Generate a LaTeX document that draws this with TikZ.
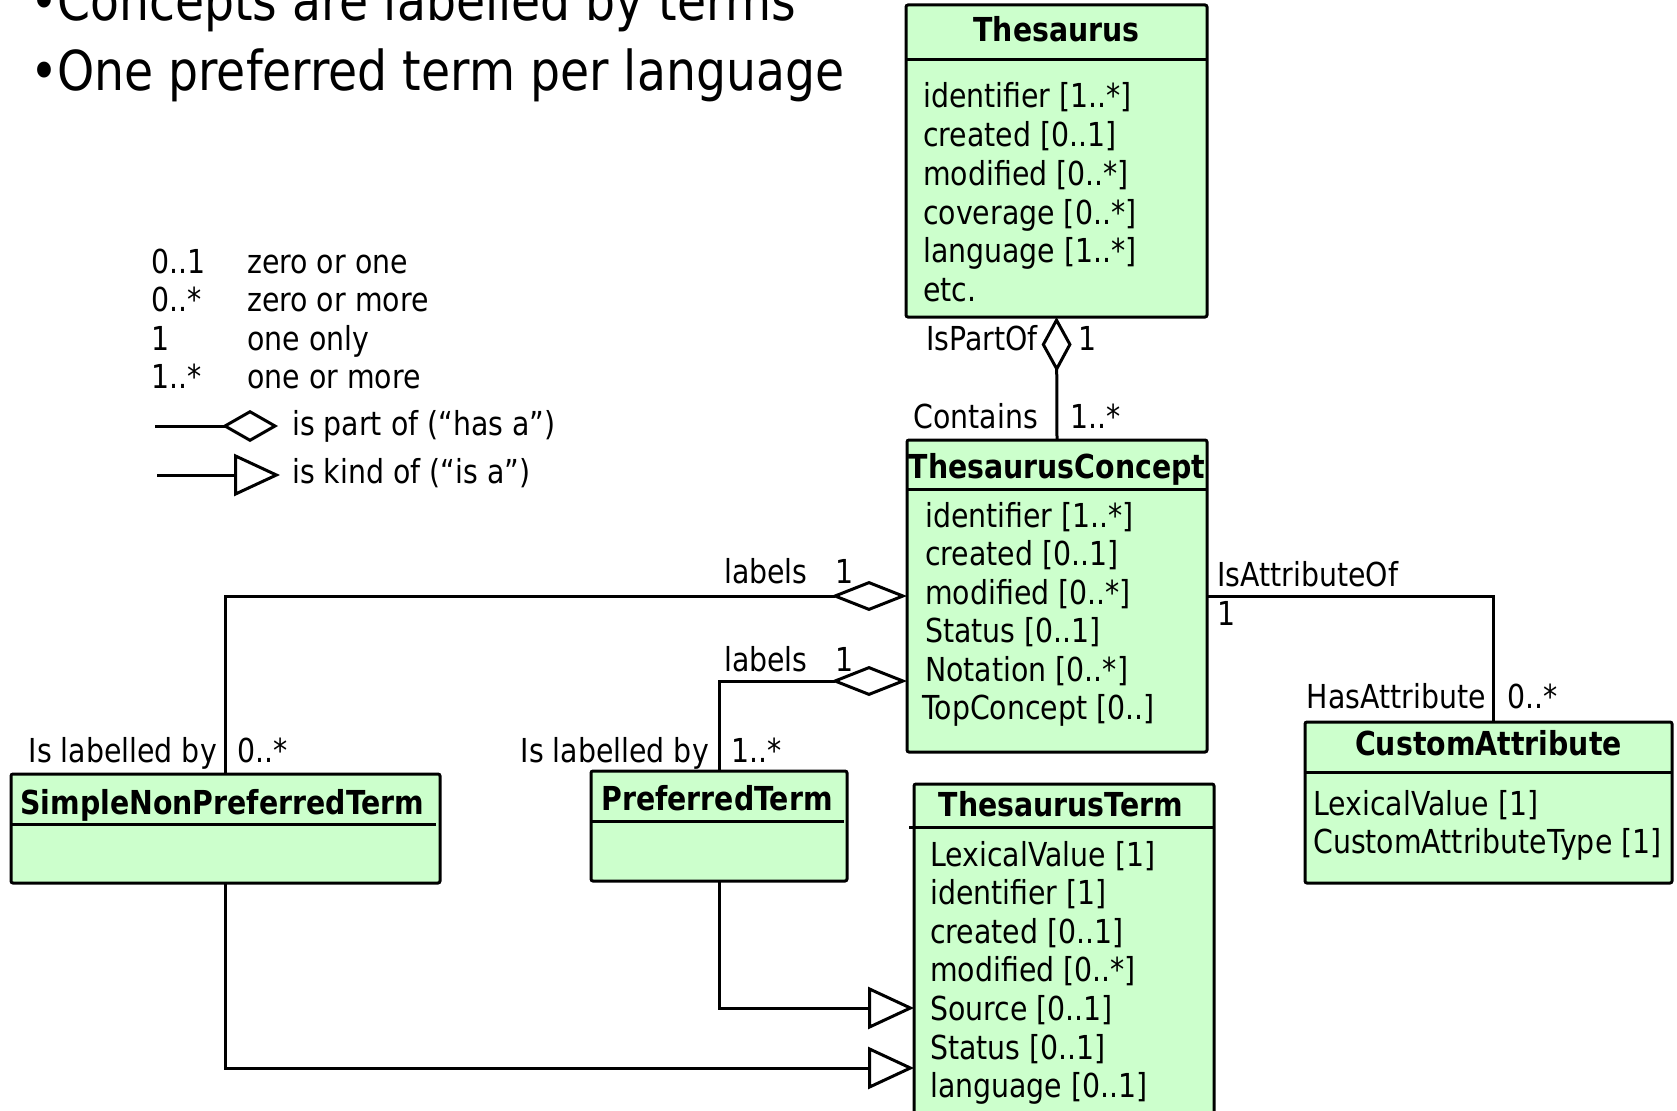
\documentclass[tikz,border=0pt]{standalone}
\usepackage{fontspec}
\setmainfont{DejaVu Sans}[FakeStretch=0.86]
\usetikzlibrary{arrows.meta}
\definecolor{umlfill}{HTML}{CCFFCC}
\begin{document}
\begin{tikzpicture}[x=1pt,y=-1pt,
  umlbox/.style={draw, line width=3pt, fill=umlfill, rounded corners=2pt,
    inner sep=0pt, outer sep=0pt, anchor=north west},
  sepline/.style={line width=3pt},
  conn/.style={line width=3pt},
  txt/.style={inner sep=0pt, font=\fontsize{33}{38.5}\selectfont},
  lw/.style={txt, anchor=base west},
  le/.style={txt, anchor=base east},
  ttl/.style={inner sep=0pt, anchor=base, font=\fontsize{33}{38.5}\selectfont\bfseries},
  head/.style={inner sep=0pt, anchor=base west, font=\fontsize{55}{70}\selectfont},
  aggr/.style={conn, -{Diamond[open, fill=white, length=#1, width=30pt]}},
  gen/.style={conn, -{Triangle[open, fill=white, length=46pt, width=42pt]}},
]
\useasboundingbox (0,0) rectangle (1677,1110);
\clip (0,0) rectangle (1677,1110);

% ---------- heading ----------
\node[head] (b1) at (30,21) {•};
\node[head] (h1) at (57,21) {Concepts are labelled by terms};
\node[head] (b2) at (30,91) {•};
\node[head] (h2) at (57,91) {One preferred term per language};

% ---------- legend ----------
\node[lw] (m1) at (151,273) {0..1};
\node[lw] (m1t) at (247,273) {zero or one};
\node[lw] (m2) at (151,311.5) {0..*};
\node[lw] (m2t) at (247,311.5) {zero or more};
\node[lw] (m3) at (151,350) {1};
\node[lw] (m3t) at (247,350) {one only};
\node[lw] (m4) at (151,388.5) {1..*};
\node[lw] (m4t) at (247,388.5) {one or more};
\coordinate (lgA0) at (155,426);
\coordinate (lgA1) at (278,426);
\draw[conn, -{Diamond[open, fill=white, length=56pt, width=32pt]}] (lgA0) -- (lgA1);
\node[lw] (lgAt) at (292,435) {is part of (“has a”)};
\coordinate (lgB0) at (157,475);
\coordinate (lgB1) at (280,475);
\draw[gen] (lgB0) -- (lgB1);
\node[lw] (lgBt) at (292,483) {is kind of (“is a”)};

% ---------- Thesaurus ----------
\node[umlbox, minimum width=301pt, minimum height=312pt] (thes) at (906,5) {};
\draw[sepline] ([yshift=-55pt]thes.north west) -- ([yshift=-55pt]thes.north east);
\node[ttl] (thesT) at ([yshift=-37pt]thes.north) {Thesaurus};
\foreach \t [count=\i from 0] in {{identifier [1..*]},{created [0..1]},{modified [0..*]},{coverage [0..*]},{language [1..*]},{etc.}}
  \node[lw] (thes-a\i) at (923,108+38.7*\i) {\t};

% ---------- ThesaurusConcept ----------
\node[umlbox, minimum width=300pt, minimum height=312pt] (tc) at (907,440) {};
\draw[sepline] ([yshift=-49pt]tc.north west) -- ([yshift=-49pt]tc.north east);
\node[ttl] (tcT) at ([yshift=-38pt]tc.north) {ThesaurusConcept};
\foreach \t [count=\i from 0] in {{identifier [1..*]},{created [0..1]},{modified [0..*]},{Status [0..1]},{Notation [0..*]}}
  \node[lw] (tc-a\i) at (925,527+38.5*\i) {\t};
\node[lw] (tc-a5) at (922,719.5) {TopConcept [0..]};

% ---------- SimpleNonPreferredTerm ----------
\node[umlbox, minimum width=429pt, minimum height=109pt] (snpt) at (11,774) {};
\draw[sepline] ([yshift=-50pt]snpt.north west) -- ([xshift=-4pt,yshift=-50pt]snpt.north east);
\node[ttl] (snptT) at ([xshift=-3pt,yshift=-40pt]snpt.north) {SimpleNonPreferredTerm};

% ---------- PreferredTerm ----------
\node[umlbox, minimum width=256pt, minimum height=110pt] (pt) at (591,771) {};
\draw[sepline] ([yshift=-50pt]pt.north west) -- ([xshift=-3pt,yshift=-50pt]pt.north east);
\node[ttl] (ptT) at ([xshift=-2pt,yshift=-39pt]pt.north) {PreferredTerm};

% ---------- ThesaurusTerm ----------
\node[umlbox, minimum width=300pt, minimum height=400pt] (tt) at (914,784) {};
\draw[sepline] ([xshift=-5pt,yshift=-43pt]tt.north west) -- ([yshift=-43pt]tt.north east);
\node[ttl] (ttT) at ([xshift=-3pt,yshift=-32pt]tt.north) {ThesaurusTerm};
\foreach \t [count=\i from 0] in {{LexicalValue [1]},{identifier [1]},{created [0..1]},{modified [0..*]},{Source [0..1]},{Status [0..1]},{language [0..1]}}
  \node[lw] (tt-a\i) at (930,866+38.6*\i) {\t};

% ---------- CustomAttribute ----------
\node[umlbox, minimum width=367pt, minimum height=161pt] (ca) at (1305,722) {};
\draw[sepline] ([yshift=-50pt]ca.north west) -- ([yshift=-50pt]ca.north east);
\node[ttl] (caT) at ([yshift=-33pt]ca.north) {CustomAttribute};
\node[lw] (ca-a0) at (1313,815) {LexicalValue [1]};
\node[lw] (ca-a1) at (1313,853) {CustomAttributeType [1]};

% ---------- associations ----------
\draw[aggr=55pt] (tc.north) -- (thes.south);
\node[le] (ispart) at (1038,350) {IsPartOf};
\node[lw] (ispartm) at (1078,350) {1};
\node[le] (contains) at (1038,428) {Contains};
\node[lw] (containsm) at (1070,428) {1..*};

\draw[aggr=76pt] (snpt.north) |- (tc.west);
\node[lw] (lab1) at (724,583) {labels};
\node[lw] (lab1m) at (835,583) {1};
\node[le] (isl1) at (217,762) {Is labelled by};
\node[lw] (isl1m) at (237,762) {0..*};

\draw[aggr=76pt] (pt.north) |- ([yshift=-85pt]tc.west);
\node[lw] (lab2) at (724,671) {labels};
\node[lw] (lab2m) at (835,671) {1};
\node[le] (isl2) at (709,762) {Is labelled by};
\node[lw] (isl2m) at (731,762) {1..*};

\draw[conn] (tc.east) -| ([xshift=5pt]ca.north);
\node[lw] (attof) at (1217,586) {IsAttributeOf};
\node[lw] (attofm) at (1217,625) {1};
\node[le] (hasatt) at (1486,708) {HasAttribute};
\node[lw] (hasattm) at (1507,708) {0..*};

% ---------- generalisations ----------
\draw[gen] (pt.south) |- ([yshift=-224pt]tt.north west);
\draw[gen] (snpt.south) |- ([yshift=-284pt]tt.north west);
\end{tikzpicture}
\end{document}
